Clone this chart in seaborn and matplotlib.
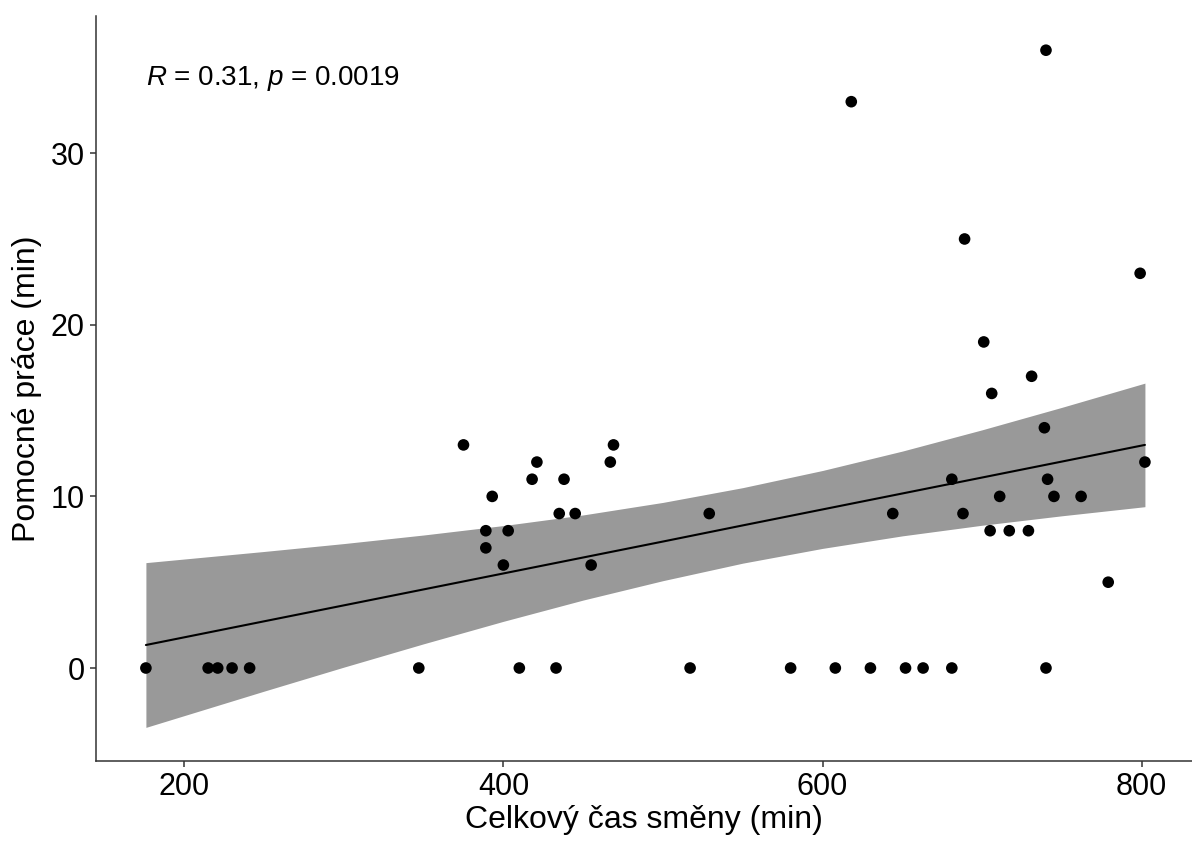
# =============================================================================
# Scatter with linear fit: Celkový čas směny vs. Pomocné práce
# =============================================================================

import numpy as np
import pandas as pd
import matplotlib
matplotlib.use('Agg')
import matplotlib.pyplot as plt
import seaborn as sns

# --- Data ---
shift_time = [176, 215, 221, 230, 241, 347, 410, 433, 517, 580, 608, 630, 652, 663, 681, 740,
              375, 389, 389, 393, 400, 403, 418, 421, 435, 438, 445, 455, 467, 469, 529,
              618, 644, 681, 688, 689, 701, 705, 706, 711, 717, 729, 731, 739, 740, 741,
              745, 762, 779, 799, 802]
aux_work = [0, 0, 0, 0, 0, 0, 0, 0, 0, 0, 0, 0, 0, 0, 0, 0,
            13, 8, 7, 10, 6, 8, 11, 12, 9, 11, 9, 6, 12, 13, 9,
            33, 9, 11, 9, 25, 19, 8, 16, 10, 8, 8, 17, 14, 36, 11,
            10, 10, 5, 23, 12]

# fitted line and 95% confidence band
fit_x = [176, 250, 300, 350, 400, 450, 500, 550, 600, 650, 700, 750, 802]
fit_y = [1.34, 2.72, 3.65, 4.58, 5.51, 6.44, 7.37, 8.31, 9.24, 10.17, 11.10, 12.03, 13.0]
ci_low = [-3.46, -1.35, 0.05, 1.41, 2.72, 3.96, 5.09, 6.11, 6.97, 7.70, 8.32, 8.87, 9.4]
ci_high = [6.14, 6.79, 7.25, 7.75, 8.30, 8.92, 9.65, 10.51, 11.51, 12.64, 13.88, 15.19, 16.6]

x_ticks = [200, 400, 600, 800]
y_ticks = [0, 10, 20, 30]
stat_label = r'$R$ = 0.31, $p$ = 0.0019'

df = pd.DataFrame({'x': shift_time, 'y': aux_work})
fit = pd.DataFrame({'x': fit_x, 'y': fit_y})

# --- Style ---
sns.set_theme(style='ticks')
plt.rcParams['font.family'] = ['Liberation Sans', 'DejaVu Sans']
plt.rcParams['mathtext.fontset'] = 'custom'
plt.rcParams['mathtext.rm'] = 'Liberation Sans'
plt.rcParams['mathtext.it'] = 'Liberation Sans:italic'

fig = plt.figure(figsize=(11.92, 8.41), dpi=100)
ax = fig.add_axes([0.0805, 0.0949, 0.9195, 0.8856])

# --- Confidence band + regression line ---
ax.fill_between(fit_x, ci_low, ci_high, color='#999999', linewidth=0, zorder=1)
sns.lineplot(data=fit, x='x', y='y', color='black', linewidth=1.5, ax=ax, zorder=2)

# --- Points ---
sns.scatterplot(data=df, x='x', y='y', color='black', s=70, edgecolor='none', ax=ax, zorder=3)

ax.text(fit_x[0], 34.0, stat_label, fontsize=20, ha='left', va='baseline', color='black')

# --- Axes ---
ax.set_xlim(144.7, 831.5)
ax.set_ylim(-5.43, 37.97)
ax.set_xticks(x_ticks)
ax.set_yticks(y_ticks)
ax.set_xlabel('Celkový čas směny (min)', fontsize=23, color='black', labelpad=2)
ax.set_ylabel('Pomocné práce (min)', fontsize=23, color='black', labelpad=6)
ax.tick_params(axis='both', labelsize=22, colors='#333333', labelcolor='black',
               length=4.5, width=1.1, direction='out')
for side in ['top', 'right']:
    ax.spines[side].set_visible(False)
for side in ['left', 'bottom']:
    ax.spines[side].set_color('#333333')
    ax.spines[side].set_linewidth(1.1)

plt.savefig('out.png', dpi=100)
